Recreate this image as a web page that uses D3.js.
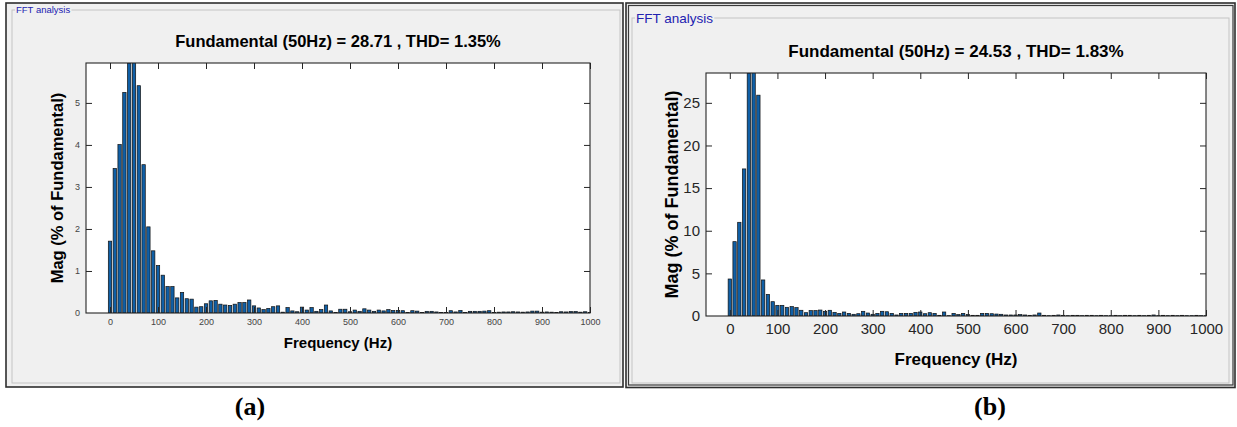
<!DOCTYPE html>
<html>
<head>
<meta charset="utf-8">
<script src="https://cdn.jsdelivr.net/npm/d3@7"></script>
<style>
  body { margin: 0; background: #fff; }
  svg { display: block; }
</style>
</head>
<body>
<svg id="fig" width="1237" height="427"></svg>
<script>
// Harmonic bins of the FFT (10 Hz resolution, 0–1000 Hz)
const freqHz = d3.range(0, 1001, 10);

// Magnitude of each bin, % of fundamental — case (a)
const magA = [
  1.71, 3.44, 4.01, 5.25, 5.95, 100, 5.41, 3.53, 2.05, 1.48,
  1.13, 0.90, 0.63, 0.63, 0.36, 0.49, 0.34, 0.33, 0.14, 0.15,
  0.22, 0.29, 0.30, 0.21, 0.19, 0.18, 0.21, 0.25, 0.25, 0.31,
  0.17, 0.12, 0.08, 0.11, 0.15, 0.17, 0.02, 0.13, 0.05, 0.03,
  0.14, 0.07, 0.13, 0.04, 0.08, 0.19, 0.05, 0.01, 0.09, 0.09,
  0.03, 0.07, 0.04, 0.10, 0.07, 0.04, 0.07, 0.05, 0.08, 0.06,
  0.06, 0.055, 0.01, 0.055, 0.045, 0.015, 0.04, 0.04, 0.025, 0.015,
  0.01, 0.055, 0.025, 0.06, 0.015, 0.04, 0.04, 0.04, 0.045, 0.055,
  0.01, 0.02, 0.025, 0.025, 0.03, 0.025, 0.02, 0.025, 0.045, 0.045,
  0.02, 0.025, 0.02, 0.015, 0.03, 0.025, 0.035, 0.035, 0.02, 0.03,
  0.015
];

// Magnitude of each bin, % of fundamental — case (b)
const magB = [
  4.34, 8.72, 10.99, 17.25, 28.5, 100, 25.9, 4.23, 2.54, 1.68,
  1.25, 1.25, 1.02, 1.10, 0.98, 0.67, 0.39, 0.63, 0.63, 0.70,
  0.55, 0.67, 0.43, 0.31, 0.47, 0.31, 0.20, 0.27, 0.55, 0.35,
  0.20, 0.31, 0.55, 0.50, 0.31, 0.12, 0.31, 0.31, 0.31, 0.43,
  0.47, 0.27, 0.39, 0.31, 0.08, 0.47, 0.04, 0.31, 0.16, 0.31,
  0.16, 0.08, 0.08, 0.31, 0.31, 0.27, 0.23, 0.20, 0.12, 0.12,
  0.12, 0.16, 0.12, 0.08, 0.12, 0.35, 0.08, 0.04, 0.08, 0.12,
  0.08, 0.04, 0.08, 0.08, 0.04, 0.08, 0.08, 0.04, 0.08, 0.04,
  0.04, 0.08, 0.04, 0.08, 0.08, 0.04, 0.08, 0.04, 0.08, 0.12,
  0.04, 0.08, 0.04, 0.08, 0.04, 0.08, 0.04, 0.04, 0.08, 0.04,
  0.04
];

const fundamentalHz = 50;
const fundamentalA = "28.71", thdA = "1.35";
const fundamentalB = "24.53", thdB = "1.83";

const freqTicks = [0, 100, 200, 300, 400, 500, 600, 700, 800, 900, 1000];
const magTicksA = [0, 1, 2, 3, 4, 5];
const magTicksB = [0, 5, 10, 15, 20, 25];

const groupTitle = "FFT analysis";
const xTitle = "Frequency (Hz)";
const yTitle = "Mag (% of Fundamental)";

const svg = d3.select("#fig");
const defs = svg.append("defs");
const plain = d => String(d);

function drawPanel(cfg) {
  const g = svg.append("g");

  // window background and frame
  g.append("rect")
    .attr("x", cfg.frame[0]).attr("y", cfg.frame[1])
    .attr("width", cfg.frame[2] - cfg.frame[0]).attr("height", cfg.frame[3] - cfg.frame[1])
    .attr("fill", "#f0f0f0").attr("stroke", "#2e2e2e").attr("stroke-width", 1.6);
  if (cfg.frameInner) {
    g.append("rect")
      .attr("x", cfg.frameInner[0]).attr("y", cfg.frameInner[1])
      .attr("width", cfg.frameInner[2] - cfg.frameInner[0]).attr("height", cfg.frameInner[3] - cfg.frameInner[1])
      .attr("fill", "none").attr("stroke", "#3a3a3a").attr("stroke-width", 1.2);
  }

  // group box with its caption
  g.append("rect")
    .attr("x", cfg.group[0]).attr("y", cfg.group[1])
    .attr("width", cfg.group[2] - cfg.group[0]).attr("height", cfg.group[3] - cfg.group[1])
    .attr("fill", "none").attr("stroke", "#c4c4c4").attr("stroke-width", 1);
  const cap = g.append("text")
    .attr("x", cfg.groupTextX).attr("y", cfg.group[1])
    .attr("dy", "0.35em")
    .attr("font-family", "Liberation Sans, Arial, sans-serif")
    .attr("font-size", cfg.groupFont)
    .attr("fill", "#2222b0")
    .text(groupTitle);
  const bb = cap.node().getBBox();
  g.insert("rect", "text")
    .attr("x", bb.x - 1).attr("y", bb.y).attr("width", bb.width + 2).attr("height", bb.height)
    .attr("fill", "#f0f0f0");

  const [ax0, ay0, ax1, ay1] = cfg.axes;
  const fundIdx = freqHz.indexOf(fundamentalHz);
  const yMax = d3.max(cfg.mags.filter((_, i) => i !== fundIdx));

  const x = d3.scaleLinear().domain([-50, 1000]).range([ax0, ax1]);
  const y = d3.scaleLinear().domain([0, yMax]).range([ay1, ay0]);

  g.append("rect")
    .attr("x", ax0).attr("y", ay0).attr("width", ax1 - ax0).attr("height", ay1 - ay0)
    .attr("fill", "#fff");

  const clipId = "clip-" + cfg.id;
  defs.append("clipPath").attr("id", clipId)
    .append("rect").attr("x", ax0).attr("y", ay0).attr("width", ax1 - ax0).attr("height", ay1 - ay0);

  const bw = (x(10) - x(0)) * 0.7;
  g.append("g").attr("clip-path", `url(#${clipId})`)
    .selectAll("rect")
    .data(freqHz.map((f, i) => ({ f, v: cfg.mags[i] })))
    .join("rect")
    .attr("x", d => x(d.f) - bw / 2)
    .attr("y", d => y(d.v))
    .attr("width", bw)
    .attr("height", d => y(0) - y(d.v))
    .attr("fill", "#0f5fa6")
    .attr("stroke", "#111")
    .attr("stroke-width", 0.7);

  const tickLen = 6;
  const axisColor = "#262626";

  const bottom = g.append("g").attr("transform", `translate(0,${ay1})`)
    .call(d3.axisBottom(x).tickValues(freqTicks).tickFormat(plain)
      .tickSizeInner(-tickLen).tickSizeOuter(0).tickPadding(cfg.xPad));
  const top = g.append("g").attr("transform", `translate(0,${ay0})`)
    .call(d3.axisTop(x).tickValues(freqTicks).tickSizeInner(-tickLen).tickSizeOuter(0).tickFormat(""));
  const left = g.append("g").attr("transform", `translate(${ax0},0)`)
    .call(d3.axisLeft(y).tickValues(cfg.yTicks).tickFormat(plain)
      .tickSizeInner(-tickLen).tickSizeOuter(0).tickPadding(cfg.yPad));
  const right = g.append("g").attr("transform", `translate(${ax1},0)`)
    .call(d3.axisRight(y).tickValues(cfg.yTicks).tickSizeInner(-tickLen).tickSizeOuter(0).tickFormat(""));

  [bottom, top, left, right].forEach(a => {
    a.select(".domain").remove();
    a.selectAll(".tick line").attr("stroke", axisColor).attr("stroke-width", 1);
    a.selectAll(".tick text")
      .attr("font-family", "Liberation Sans, Arial, sans-serif")
      .attr("font-size", cfg.tickFont)
      .attr("fill", cfg.tickColor);
  });
  // ticks sitting on the box corners are hidden by the box itself
  left.selectAll(".tick").filter(d => d === 0).select("line").remove();
  right.selectAll(".tick").filter(d => d === 0).select("line").remove();

  g.append("rect")
    .attr("x", ax0).attr("y", ay0).attr("width", ax1 - ax0).attr("height", ay1 - ay0)
    .attr("fill", "none").attr("stroke", axisColor).attr("stroke-width", 1.1);

  // titles
  g.append("text")
    .attr("x", (ax0 + ax1) / 2).attr("y", cfg.titleY)
    .attr("text-anchor", "middle")
    .attr("font-family", "Liberation Sans, Arial, sans-serif")
    .attr("font-weight", "bold").attr("font-size", cfg.titleFont)
    .attr("fill", "#000")
    .text(`Fundamental (${fundamentalHz}Hz) = ${cfg.fund} , THD= ${cfg.thd}%`);

  g.append("text")
    .attr("x", (ax0 + ax1) / 2).attr("y", cfg.xLabelY)
    .attr("text-anchor", "middle")
    .attr("font-family", "Liberation Sans, Arial, sans-serif")
    .attr("font-weight", "bold").attr("font-size", cfg.xLabelFont)
    .attr("fill", "#000")
    .text(xTitle);

  g.append("text")
    .attr("transform", `translate(${cfg.yLabelX},${(ay0 + ay1) / 2}) rotate(-90)`)
    .attr("text-anchor", "middle")
    .attr("font-family", "Liberation Sans, Arial, sans-serif")
    .attr("font-weight", "bold").attr("font-size", cfg.yLabelFont)
    .attr("fill", "#000")
    .text(yTitle);

  svg.append("text")
    .attr("x", cfg.tagX).attr("y", 415)
    .attr("text-anchor", "middle")
    .attr("font-family", "Liberation Serif, Times New Roman, serif")
    .attr("font-weight", "bold").attr("font-size", 26)
    .attr("fill", "#000")
    .text(cfg.tag);
}

drawPanel({
  id: "a", mags: magA, fund: fundamentalA, thd: thdA, yTicks: magTicksA, tag: "(a)",
  frame: [6, 3, 623, 387], frameInner: null,
  group: [12, 10, 620, 383], groupTextX: 16, groupFont: 9.5,
  axes: [86, 63, 590, 313],
  tickFont: 9, tickColor: "#444", xPad: 6, yPad: 6,
  titleFont: 16.5, titleY: 47,
  xLabelFont: 15, xLabelY: 348,
  yLabelFont: 16.5, yLabelX: 63,
  tagX: 250
});

drawPanel({
  id: "b", mags: magB, fund: fundamentalB, thd: thdB, yTicks: magTicksB, tag: "(b)",
  frame: [626, 3, 1235, 387.5], frameInner: [628.5, 5.5, 1233, 385],
  group: [632, 18, 1229, 383], groupTextX: 636, groupFont: 13.5,
  axes: [706, 73, 1206, 316],
  tickFont: 15, tickColor: "#262626", xPad: 7, yPad: 6,
  titleFont: 17, titleY: 57,
  xLabelFont: 17, xLabelY: 365,
  yLabelFont: 18, yLabelX: 678,
  tagX: 990
});
</script>
</body>
</html>
